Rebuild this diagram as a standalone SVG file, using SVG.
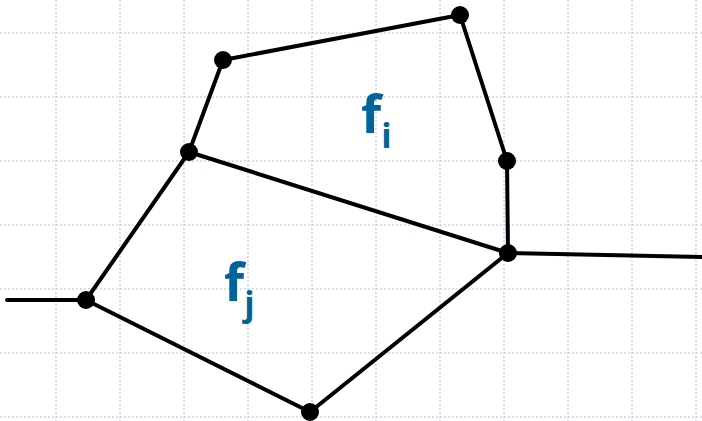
<svg xmlns="http://www.w3.org/2000/svg" width="702" height="421" viewBox="0 0 702 421">
<style>
.grid{stroke:#c8d3f6;stroke-width:1.5;stroke-dasharray:2 2;fill:none}
.edge{stroke:#000;stroke-width:4;fill:none;stroke-linecap:round}
.v{fill:#000}
.lbl{font-family:"Open Sans","Liberation Sans",sans-serif;font-weight:700;fill:#00639a}
</style>
<rect width="702" height="421" fill="#fff"/>
<g id="grid" class="grid">
<path d="M56 0V421M120 0V421M184 0V421M248 0V421M312 0V421M376 0V421M440 0V421M504 0V421M568 0V421M632 0V421M696 0V421"/>
<path d="M0 33H702M0 97H702M0 161H702M0 225H702M0 289H702M0 353H702M0 417H702"/>
</g>
<g id="connectors" class="edge">
<line x1="7" y1="300" x2="86" y2="300"/>
<line x1="86" y1="300" x2="189" y2="152"/>
<line x1="189" y1="152" x2="223" y2="60"/>
<line x1="223" y1="60" x2="460" y2="15"/>
<line x1="460" y1="15" x2="507" y2="161"/>
<line x1="507" y1="161" x2="508" y2="253"/>
<line x1="189" y1="152" x2="508" y2="253"/>
<line x1="508" y1="253" x2="702" y2="257"/>
<line x1="508" y1="253" x2="310" y2="412"/>
<line x1="86" y1="300" x2="310" y2="412"/>
</g>
<g id="v1"><circle class="v" cx="86" cy="300" r="9"/></g>
<g id="v2"><circle class="v" cx="189" cy="152" r="9"/></g>
<g id="v3"><circle class="v" cx="223" cy="60" r="9"/></g>
<g id="v4"><circle class="v" cx="460" cy="15" r="9"/></g>
<g id="v5"><circle class="v" cx="507" cy="161" r="9"/></g>
<g id="v6"><circle class="v" cx="508" cy="253" r="9"/></g>
<g id="v7"><circle class="v" cx="310" cy="412" r="9"/></g>
<g id="fi"><text class="lbl" x="361" y="133" font-size="52">f<tspan font-size="34" dy="15">i</tspan></text></g>
<g id="fj"><text class="lbl" x="224" y="301" font-size="52">f<tspan font-size="34" dy="15">j</tspan></text></g>
</svg>
